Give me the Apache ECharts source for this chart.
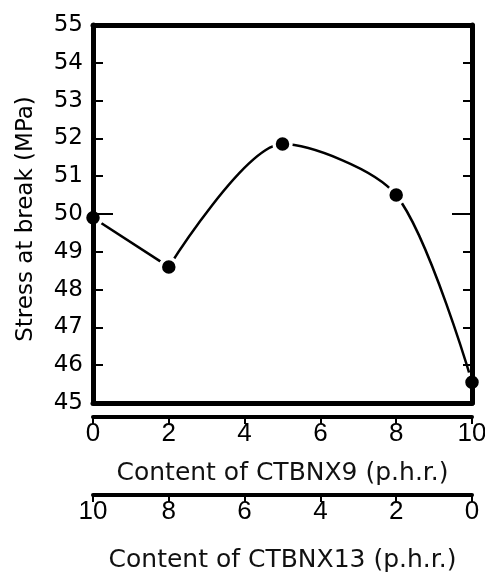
<!DOCTYPE html>
<html>
<head>
<meta charset="utf-8">
<script src="https://cdn.jsdelivr.net/npm/echarts@6/dist/echarts.min.js"></script>
<style>
  html, body { margin:0; padding:0; background:#fff; }
  #chart { width:485px; height:572px; }
</style>
</head>
<body>
<div id="chart"></div>
<script>
// CTBNX9 content (p.h.r.); CTBNX13 = 10 - CTBNX9
const ctbnx9 = [0, 2, 5, 8, 10];
const stress = [49.9, 48.6, 51.85, 50.5, 45.55];

const yTicks = {min:45, max:55, step:1};
const xTicks = {min:0, max:10, step:2};

function el(id){ return document.getElementById(id); }

const INK = "#000";
const NUM_Y = "DejaVu Sans";
const NUM_X = "Liberation Sans";
const TITLE = "DejaVu Sans";

function frameX(pos){
  return {
    type:"value", position:pos, min:xTicks.min, max:xTicks.max, z:5,
    axisLine:{show:true, onZero:false, lineStyle:{color:INK, width:5}},
    axisTick:{show:false}, axisLabel:{show:false}, splitLine:{show:false}
  };
}

function scaleX(offset, inverse, name, gap){
  return {
    type:"value", position:"bottom", offset:offset, inverse:inverse,
    min:xTicks.min, max:xTicks.max, interval:xTicks.step, z:5,
    axisLine:{show:true, onZero:false, lineStyle:{color:INK, width:4}},
    axisTick:{show:true, inside:false, length:7, lineStyle:{color:INK, width:2}},
    axisLabel:{color:INK, fontFamily:NUM_X, fontSize:26, margin:4},
    splitLine:{show:false},
    name:name, nameLocation:"middle", nameGap:gap,
    nameTextStyle:{color:"#111", fontFamily:TITLE, fontSize:25}
  };
}

function frameY(pos, step, len, showLine){
  return {
    type:"value", position:pos, min:yTicks.min, max:yTicks.max, interval:step, z:5,
    axisLine:{show:showLine, onZero:false, lineStyle:{color:INK, width:5}},
    axisTick:{show:true, inside:true, length:len, lineStyle:{color:INK, width:2}},
    axisLabel:{show:false}, splitLine:{show:false}
  };
}

const chart = echarts.init(el("chart"));
const yMain = frameY("left", yTicks.step, 10, true);
yMain.axisLabel = {show:true, color:INK, fontFamily:NUM_Y, fontSize:23, margin:10};
yMain.name = "Stress at break (MPa)";
yMain.nameLocation = "middle";
yMain.nameGap = 55;
yMain.nameTextStyle = {color:INK, fontFamily:NUM_Y, fontSize:23, padding:[0, 0, 0, -10]};

const pts = ctbnx9.map((x, i) => [x, stress[i]]);

function curve(data, smooth){
  return {
    type:"line", xAxisIndex:0, yAxisIndex:0,
    data:data, smooth:smooth, z:2,
    lineStyle:{color:INK, width:2.5},
    symbol:"circle", symbolSize:17,
    itemStyle:{color:INK, borderColor:"#fff", borderWidth:3.5}
  };
}

chart.setOption({
  animation:false,
  grid:{left:93, right:13, top:25, bottom:169, outerBoundsMode:"none", containLabel:false},
  xAxis:[
    frameX("bottom"),
    frameX("top"),
    scaleX(14, false, "Content of CTBNX9 (p.h.r.)", 44),
    scaleX(92, true, "Content of CTBNX13 (p.h.r.)", 53)
  ],
  yAxis:[
    yMain,
    frameY("left", 5, 20, false),
    frameY("right", yTicks.step, 9, true),
    frameY("right", 5, 20, false)
  ],
  series:[
    curve(pts.slice(0, 2), false),
    curve(pts.slice(1), 0.28)
  ]
});
</script>
</body>
</html>
